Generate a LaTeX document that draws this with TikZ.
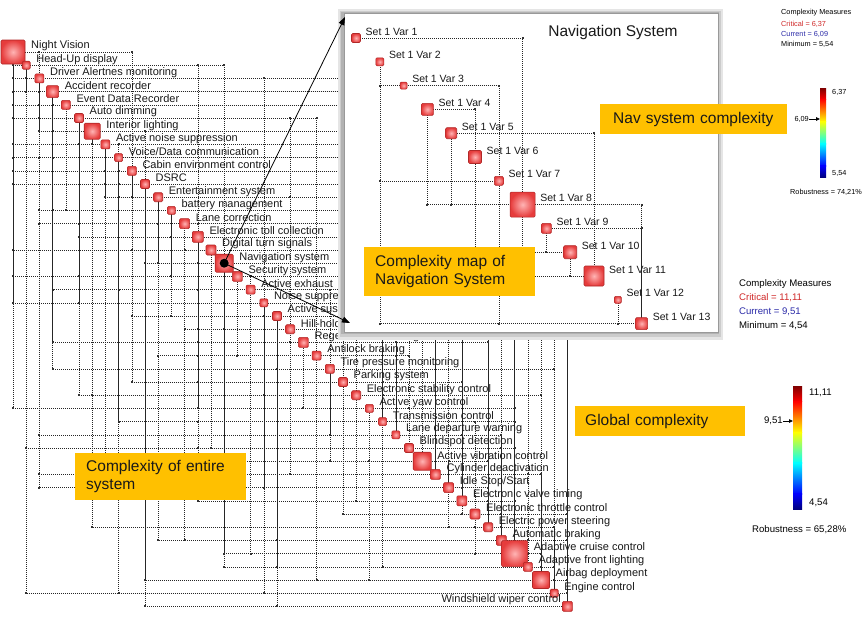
\documentclass[tikz,border=0pt]{standalone}
\usepackage{fontspec}
\setmainfont{Liberation Sans}
\usetikzlibrary{arrows.meta}
\pgfdeclarelayer{lower}
\pgfdeclarelayer{ibg}
\pgfdeclarelayer{ilines}
\pgfdeclarelayer{ifg}
\pgfdeclarelayer{over}
\pgfsetlayers{lower,main,ibg,ilines,ifg,over}
\definecolor{boxin}{HTML}{FFB4B4}
\definecolor{boxout}{HTML}{E63C3C}
\definecolor{boxedge}{HTML}{B02828}
\definecolor{orangeb}{HTML}{FFC000}
\definecolor{critc}{HTML}{D02828}
\definecolor{currc}{HTML}{2A2AA8}
\definecolor{jdr}{rgb}{0.5,0,0}
\definecolor{jr}{rgb}{1,0,0}
\definecolor{jy}{rgb}{1,1,0}
\definecolor{jc}{rgb}{0,1,1}
\definecolor{jb}{rgb}{0,0,1}
\definecolor{jdb}{rgb}{0,0,0.5}
\begin{document}
\begin{tikzpicture}[x=1pt,y=-1pt,
  sysbox/.style={rectangle, rounded corners=1.2pt, draw=boxedge, line width=0.6pt, inner color=boxin, outer color=boxout, inner sep=0pt},
  lab/.style={anchor=west, font=\fontsize{11}{12}\selectfont, text=black!90, inner sep=0pt},
  ilab/.style={anchor=west, font=\fontsize{10.5}{12}\selectfont, text=black!90, inner sep=0pt},
  conn/.style={draw=black!85, line width=0.5pt, dash pattern=on 0.8pt off 1.2pt},
  dotc/.style={fill=black!80},
  obox/.style={fill=orangeb, draw=none, align=left, font=\fontsize{15.5}{18.5}\selectfont, text=black!90, inner ysep=0pt, anchor=north west},
  legsmall/.style={anchor=west, font=\fontsize{7.3}{8}\selectfont, inner sep=0pt},
  legbig/.style={anchor=west, font=\fontsize{9.6}{11}\selectfont, inner sep=0pt},
  bigarrow/.style={-{Triangle[length=8pt,width=6pt]}, line width=0.8pt, black},
  smallarrow/.style={-{Triangle[length=4pt,width=3.5pt]}, line width=0.8pt, black}
]
\useasboundingbox (0,0) rectangle (868,619);
\begin{pgfonlayer}{lower}
\fill[white] (0,0) rectangle (868,619);
\end{pgfonlayer}

% diagonal nodes
\foreach \t/\s [count=\i from 0] in {Night Vision/24, Head-Up display/8, Driver Alertnes monitoring/9, Accident recorder/12, Event Data Recorder/9, Auto dimming/9, Interior lighting/16, Active noise suppression/9, {Voice/Data communication}/8, Cabin environment control/9, DSRC/9, Entertainment system/9, battery management/8, Lane correction/10, Electronic toll collection/11, Digital turn signals/10, Navigation system/18, Security system/10, Active exhaust/9, Noise suppression/8, Active suspension/9, Hill-hold/9, Regenerative braking/10, Antilock braking/9, Tire pressure monitoring/9, Parking system/9, Electronic stability control/9, Active yaw control/8, Transmission control/8, Lane departure warning/8, Blindspot detection/9, Active vibration control/18, Cylinder deactivation/10, {Idle Stop/Start}/10, Electronic valve timing/10, Electronic throttle control/10, Electric power steering/9, Automatic braking/10, Adaptive cruise control/26, Adaptive front lighting/9, Airbag deployment/17, Engine control/8}
{
  \node[sysbox, minimum size=\s pt] (n\i) at ({13+13.2*\i},{52+13.2*\i}) {};
  \node[lab] (l\i) at ({19+13.2*\i+\s/2},{46+13.2*\i}) {\t};
}
\node[sysbox, minimum size=10pt] (n42) at ({13+13.2*42},{52+13.2*42}) {};
\node[lab, anchor=east] (l42) at (561,600) {Windshield wiper control};
\fill[black] (n16.center) circle (4.5pt);

% connection grid
\begin{pgfonlayer}{lower}
\pgfmathsetseed{7}
\foreach \j in {1,...,42}{
  \pgfmathtruncatemacro\jm{\j-1}
  \foreach \k in {1,2,3}{
    \pgfmathrandominteger{\ia}{0}{\jm}
    \draw[conn] (n\j.center) -| (n\ia.center);
    \fill[dotc] (n\ia.center |- n\j.center) +(-1,-1) rectangle +(1,1);
  }
}
\foreach \i in {0,...,41}{
  \pgfmathtruncatemacro\ip{\i+1}
  \foreach \k in {1,2}{
    \pgfmathrandominteger{\ja}{\ip}{42}
    \draw[conn] (n\i.center) -| (n\ja.center);
    \fill[dotc] (n\ja.center |- n\i.center) +(-1,-1) rectangle +(1,1);
  }
}
\end{pgfonlayer}

% inset window
\begin{pgfonlayer}{ibg}
\fill[black!10] (338,9) rectangle (723,340);
\fill[black!20] (340,11) rectangle (721,337);
\fill[black!30] (341,12) rectangle (719,334);
\fill[white] (344,13) rectangle (718,332);
\draw[black!40, line width=0.5pt] (344,13) rectangle (718,332);
\end{pgfonlayer}
\begin{pgfonlayer}{ifg}
\foreach \s [count=\k] in {9,8,7,12,11,13,9,25,10,13,20,7,12}{
  \node[sysbox, minimum size=\s pt] (v\k) at ({356+23.8*(\k-1)},{38+23.8*(\k-1)}) {};
  \node[ilab] (vl\k) at ({356+23.8*(\k-1)+\s/2+5},{31.5+23.8*(\k-1)}) {Set 1 Var \k};
}
\node[font=\fontsize{15.5}{18}\selectfont, text=black!90] (ititle) at (613,32) {Navigation System};
\end{pgfonlayer}
\begin{pgfonlayer}{ilines}
\foreach \a/\b in {1/8, 3/2, 3/7, 4/6, 5/11, 7/2, 8/4, 8/5, 8/13, 9/13, 10/9, 10/8, 11/10, 11/6, 13/2, 13/7, 13/12}{
  \draw[conn] (v\a.center) -| (v\b.center);
  \fill[dotc] (v\b.center |- v\a.center) +(-1,-1) rectangle +(1,1);
}
\end{pgfonlayer}

% callouts and arrows
\begin{pgfonlayer}{over}
\node[obox, minimum width=171pt, minimum height=47pt, text width=149pt, inner xsep=11pt] (entire) at (75,453) {Complexity of entire\\system};
\node[obox, minimum width=171pt, minimum height=49pt, text width=149pt, inner xsep=11pt] (mapnav) at (364,247) {Complexity map of\\Navigation System};
\node[obox, minimum width=187pt, minimum height=30pt, text width=161pt, inner xsep=13pt] (navcx) at (600,104) {Nav system complexity};
\node[obox, minimum width=170pt, minimum height=30pt, text width=150pt, inner xsep=10pt] (globcx) at (575,406) {Global complexity};
\coordinate (atop) at (345,17);
\coordinate (abot) at (350,323);
\draw[bigarrow] (n16.center) -- (atop);
\draw[bigarrow] (n16.center) -- (abot);
\end{pgfonlayer}

% legend: navigation system
\node[legsmall] (cm1) at (781,13) {Complexity Measures};
\node[legsmall, text=critc] (cr1) at (781,24) {Critical = 6,37};
\node[legsmall, text=currc] (cu1) at (781,34) {Current = 6,09};
\node[legsmall] (mi1) at (781,44) {Minimum = 5,54};
\shade[top color=jdr, bottom color=jr] (820,88) rectangle (826,99.6);
\shade[top color=jr, bottom color=jy] (820,99.1) rectangle (826,121.9);
\shade[top color=jy, bottom color=jc] (820,121.4) rectangle (826,144.1);
\shade[top color=jc, bottom color=jb] (820,143.6) rectangle (826,166.4);
\shade[top color=jb, bottom color=jdb] (820,165.9) rectangle (826,177);
\node[legsmall] (t637) at (832,92) {6,37};
\node[legsmall] (t554) at (832,173) {5,54};
\node[legsmall, anchor=east] (t609) at (809,119) {6,09};
\coordinate (b1) at (820,119);
\draw[smallarrow] (t609.east) -- (b1);
\node[legsmall] (rob1) at (790,192) {Robustness = 74,21\%};

% legend: global
\node[legbig] (cm2) at (739,284) {Complexity Measures};
\node[legbig, text=critc] (cr2) at (739,298) {Critical = 11,11};
\node[legbig, text=currc] (cu2) at (739,312) {Current = 9,51};
\node[legbig] (mi2) at (739,326) {Minimum = 4,54};
\shade[top color=jdr, bottom color=jr] (793,386) rectangle (802,401.9);
\shade[top color=jr, bottom color=jy] (793,401.4) rectangle (802,432.6);
\shade[top color=jy, bottom color=jc] (793,432.1) rectangle (802,463.4);
\shade[top color=jc, bottom color=jb] (793,462.9) rectangle (802,494.1);
\shade[top color=jb, bottom color=jdb] (793,493.6) rectangle (802,509);
\node[legbig] (t1111) at (809,393) {11,11};
\node[legbig] (t454) at (809,503) {4,54};
\node[legbig, anchor=east] (t951) at (783,421) {9,51};
\coordinate (b2) at (793,421);
\draw[smallarrow] (t951.east) -- (b2);
\node[legbig] (rob2) at (752,530) {Robustness = 65,28\%};
\end{tikzpicture}
\end{document}
